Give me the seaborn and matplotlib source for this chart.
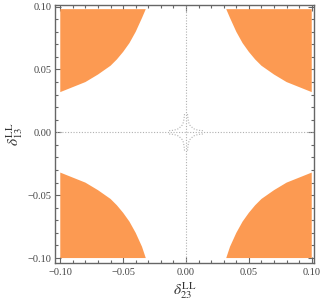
import numpy as np
import pandas as pd
import matplotlib
matplotlib.use("Agg")
import matplotlib.pyplot as plt
import seaborn as sns

# ---- data ----
# boundary of the shaded region in the upper-right corner (x, y)
bound_x = [0.032, 0.035, 0.040, 0.045, 0.050, 0.055, 0.060, 0.070, 0.080, 0.090, 0.100]
bound_y = [0.100, 0.091, 0.080, 0.071, 0.064, 0.058, 0.053, 0.046, 0.040, 0.036, 0.032]
region_edge = 0.100
region_top = 0.098
# small star-shaped dotted contour around the origin (first-quadrant arm)
star_x = [0.0012, 0.0016, 0.0022, 0.0030, 0.0040, 0.0048, 0.0058, 0.0077, 0.0105, 0.0145]
star_y = [0.0145, 0.0105, 0.0077, 0.0058, 0.0048, 0.0040, 0.0030, 0.0022, 0.0016, 0.0012]
major_ticks = [-0.10, -0.05, 0.00, 0.05, 0.10]
tick_labels = ["\u22120.10", "\u22120.05", "0.00", "0.05", "0.10"]
minor_ticks = [i / 100 for i in range(-10, 11)]

sns.set_style("ticks")
plt.rcParams["font.family"] = ["Liberation Serif", "DejaVu Serif"]
plt.rcParams["mathtext.fontset"] = "stix"

fig = plt.figure(figsize=(3.23, 3.07), dpi=100)
ax = fig.add_axes([55 / 323, 1 - 262.7 / 307, (314 - 55) / 323, (262.7 - 5) / 307])

orange = "#FC9A52"
for sx in (1, -1):
    for sy in (1, -1):
        top = region_top if sy > 0 else region_edge
        xs = [sx * v for v in bound_x] + [sx * region_edge, sx * bound_x[0]]
        ys = [sy * min(v, top) for v in bound_y] + [sy * top, sy * top]
        ax.fill(xs, ys, color=orange, lw=0, zorder=1)

gray = "#B0B0B0"
ax.plot([0, 0], [-0.11, 0.11], color=gray, lw=0.8, ls=(0, (1, 1.5)), zorder=2)
ax.plot([-0.11, 0.11], [0, 0], color=gray, lw=0.8, ls=(0, (1, 1.5)), zorder=2)
for sx in (1, -1):
    for sy in (1, -1):
        df = pd.DataFrame({"x": [sx * v for v in star_x], "y": [sy * v for v in star_y]})
        sns.lineplot(data=df, x="x", y="y", sort=False, estimator=None, ax=ax,
                     color=gray, lw=0.8, ls=(0, (1, 1.5)), zorder=2)

ax.set_xlim(-0.1042, 0.1018)
ax.set_ylim(-0.1037, 0.1013)
ax.set_xticks(major_ticks)
ax.set_xticklabels(tick_labels)
ax.set_yticks(major_ticks)
ax.set_yticklabels(tick_labels)
ax.set_xticks(minor_ticks, minor=True)
ax.set_yticks(minor_ticks, minor=True)

spine_c = "#666666"
for s in ax.spines.values():
    s.set_color(spine_c)
    s.set_linewidth(1.0)
ax.tick_params(which="both", direction="in", top=True, right=True, color=spine_c,
               labelcolor="#444444", labelsize=7.5, width=0.8)
ax.tick_params(which="major", length=4)
ax.tick_params(which="minor", length=2.5)
ax.tick_params(axis="y", pad=2.5)
ax.tick_params(axis="x", pad=4)

ax.set_xlabel(r"$\delta_{23}^{\mathrm{LL}}$", fontsize=11, color="#333333", labelpad=2)
ax.set_ylabel(r"$\delta_{13}^{\mathrm{LL}}$", fontsize=11, color="#333333", labelpad=2)

fig.savefig("out.png", dpi=100)
